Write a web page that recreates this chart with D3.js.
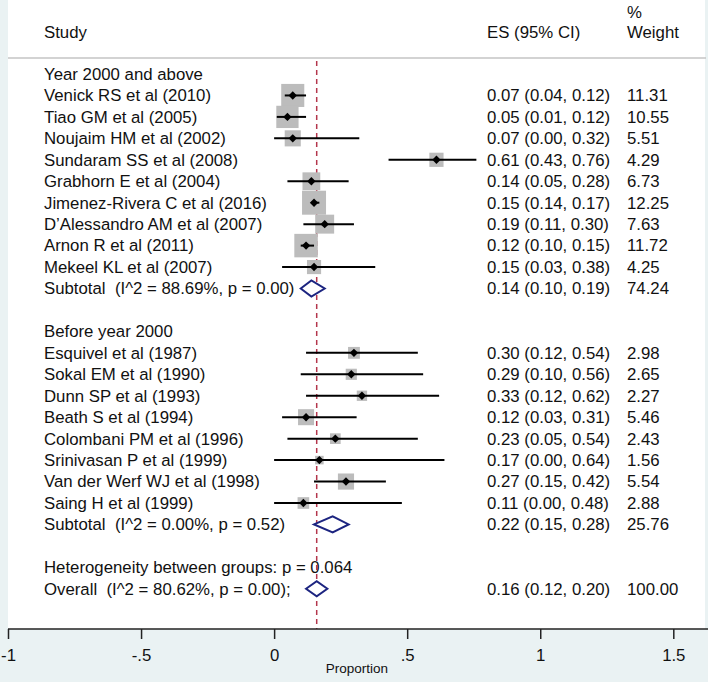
<!DOCTYPE html>
<html>
<head>
<meta charset="utf-8">
<script src="https://cdn.jsdelivr.net/npm/d3@7"></script>
<style>
html,body{margin:0;padding:0;background:#eaf2f3;}
svg{display:block;}
text{font-family:"Liberation Sans",Arial,sans-serif;fill:#111;white-space:pre;}
</style>
</head>
<body>
<svg id="chart" width="708" height="682"></svg>
<script>
// ---- data ----
const group1Label = "Year 2000 and above";
const group1Studies = ["Venick RS et al (2010)","Tiao GM et al (2005)","Noujaim HM et al (2002)","Sundaram SS et al (2008)","Grabhorn E et al (2004)","Jimenez-Rivera C et al (2016)","D\u2019Alessandro AM et al (2007)","Arnon R et al (2011)","Mekeel KL et al (2007)"];
const group1ES = [0.07,0.05,0.07,0.61,0.14,0.15,0.19,0.12,0.15];
const group1Lo = [0.04,0.01,0.00,0.43,0.05,0.14,0.11,0.10,0.03];
const group1Hi = [0.12,0.12,0.32,0.76,0.28,0.17,0.30,0.15,0.38];
const group1W  = [11.31,10.55,5.51,4.29,6.73,12.25,7.63,11.72,4.25];
const group1SubLabel = "Subtotal  (I^2 = 88.69%, p = 0.00)";
const group1Sub = [0.14,0.10,0.19,74.24];

const group2Label = "Before year 2000";
const group2Studies = ["Esquivel et al (1987)","Sokal EM et al (1990)","Dunn SP et al (1993)","Beath S et al (1994)","Colombani PM et al (1996)","Srinivasan P et al (1999)","Van der Werf WJ et al (1998)","Saing H et al (1999)"];
const group2ES = [0.30,0.29,0.33,0.12,0.23,0.17,0.27,0.11];
const group2Lo = [0.12,0.10,0.12,0.03,0.05,0.00,0.15,0.00];
const group2Hi = [0.54,0.56,0.62,0.31,0.54,0.64,0.42,0.48];
const group2W  = [2.98,2.65,2.27,5.46,2.43,1.56,5.54,2.88];
const group2SubLabel = "Subtotal  (I^2 = 0.00%, p = 0.52)";
const group2Sub = [0.22,0.15,0.28,25.76];

const heterogeneityText = "Heterogeneity between groups: p = 0.064";
const overallLabel = "Overall  (I^2 = 80.62%, p = 0.00);";
const overall = [0.16,0.12,0.20,100.00];

const tickValues = [-1,-0.5,0,0.5,1,1.5];
const tickLabels = ["-1","-.5","0",".5","1","1.5"];
const axisTitle = "Proportion";
const headers = {study:"Study", es:"ES (95% CI)", pct:"%", weight:"Weight"};

// ---- build rows ----
const rows = [];
rows.push({type:"group", label:group1Label});
group1Studies.forEach((s,i)=>rows.push({type:"study",label:s,es:group1ES[i],lo:group1Lo[i],hi:group1Hi[i],w:group1W[i]}));
rows.push({type:"sub",label:group1SubLabel,es:group1Sub[0],lo:group1Sub[1],hi:group1Sub[2],w:group1Sub[3]});
rows.push({type:"blank"});
rows.push({type:"group", label:group2Label});
group2Studies.forEach((s,i)=>rows.push({type:"study",label:s,es:group2ES[i],lo:group2Lo[i],hi:group2Hi[i],w:group2W[i]}));
rows.push({type:"sub",label:group2SubLabel,es:group2Sub[0],lo:group2Sub[1],hi:group2Sub[2],w:group2Sub[3]});
rows.push({type:"blank"});
rows.push({type:"group", label:heterogeneityText});
rows.push({type:"overall",label:overallLabel,es:overall[0],lo:overall[1],hi:overall[2],w:overall[3]});
rows.forEach((r,i)=>r.i=i);

const svg = d3.select("#chart");
const fs = 16.8;
const x = d3.scaleLinear().domain([-1,1.5]).range([8,673.3]);
const y = d3.scaleLinear().domain([0,rows.length-1]).range([74,588.8]);
const allW = group1W.concat(group2W);
const boxSide = d3.scaleSqrt().domain([0,d3.max(allW)]).range([0,24]);
const fmt = d3.format(".2f");
const axisY = 629;
const labelX = 44, esX = 487, wX = 627;

// background plot region
svg.append("rect").attr("x",8).attr("y",0).attr("width",697).attr("height",axisY).attr("fill","#fff");

// header
svg.append("text").attr("x",labelX).attr("y",32).attr("dy","0.35em").attr("font-size",fs).text(headers.study);
svg.append("text").attr("x",esX).attr("y",32).attr("dy","0.35em").attr("font-size",fs).text(headers.es);
svg.append("text").attr("x",wX).attr("y",12).attr("dy","0.35em").attr("font-size",fs).text(headers.pct);
svg.append("text").attr("x",wX).attr("y",32).attr("dy","0.35em").attr("font-size",fs).text(headers.weight);
svg.append("line").attr("x1",8).attr("x2",706).attr("y1",58).attr("y2",58).attr("stroke","#c4c4c4").attr("stroke-width",1.5);

// labels
svg.selectAll("text.lab").data(rows.filter(r=>r.label)).enter().append("text")
  .attr("class","lab").attr("x",labelX).attr("y",r=>y(r.i)).attr("dy","0.35em").attr("font-size",fs).text(r=>r.label);

const withVals = rows.filter(r=>r.es!==undefined);
svg.selectAll("text.es").data(withVals).enter().append("text")
  .attr("x",esX).attr("y",r=>y(r.i)).attr("dy","0.35em").attr("font-size",fs)
  .text(r=>`${fmt(r.es)} (${fmt(r.lo)}, ${fmt(r.hi)})`);
svg.selectAll("text.w").data(withVals).enter().append("text")
  .attr("x",wX).attr("y",r=>y(r.i)).attr("dy","0.35em").attr("font-size",fs)
  .text(r=>fmt(r.w));

// reference (overall) dashed line
svg.append("line").attr("x1",x(overall[0])).attr("x2",x(overall[0])).attr("y1",61).attr("y2",axisY)
  .attr("stroke","#b4364c").attr("stroke-width",1.5).attr("stroke-dasharray","5,4");

// study marks
const studies = rows.filter(r=>r.type==="study");
svg.selectAll("rect.box").data(studies).enter().append("rect")
  .attr("x",r=>x(r.es)-boxSide(r.w)/2).attr("y",r=>y(r.i)-boxSide(r.w)/2)
  .attr("width",r=>boxSide(r.w)).attr("height",r=>boxSide(r.w)).attr("fill","#bcbcbc");
svg.selectAll("line.ci").data(studies).enter().append("line")
  .attr("x1",r=>x(r.lo)).attr("x2",r=>x(r.hi)).attr("y1",r=>y(r.i)).attr("y2",r=>y(r.i))
  .attr("stroke","#000").attr("stroke-width",2);
svg.selectAll("path.pt").data(studies).enter().append("path")
  .attr("d",r=>{const cx=x(r.es),cy=y(r.i),h=4.2;return `M${cx-h},${cy}L${cx},${cy-h}L${cx+h},${cy}L${cx},${cy+h}Z`;})
  .attr("fill","#000");

// pooled diamonds
const pooled = rows.filter(r=>r.type==="sub"||r.type==="overall");
svg.selectAll("path.dia").data(pooled).enter().append("path")
  .attr("d",r=>{const cy=y(r.i),h=r.type==="sub"?8:7.5;return `M${x(r.lo)},${cy}L${x(r.es)},${cy-h}L${x(r.hi)},${cy}L${x(r.es)},${cy+h}Z`;})
  .attr("fill","#fff").attr("stroke","#1c2480").attr("stroke-width",2);

// axis
const axis = d3.axisBottom(x).tickValues(tickValues).tickFormat((d,i)=>tickLabels[i]).tickSize(10).tickSizeOuter(0).tickPadding(10);
const g = svg.append("g").attr("transform",`translate(0,${axisY})`).call(axis);
g.select(".domain").remove();
g.append("line").attr("x1",8).attr("x2",708).attr("y1",0).attr("y2",0).attr("stroke","#222").attr("stroke-width",1.5);
g.selectAll(".tick line").attr("stroke","#222").attr("stroke-width",1.5);
g.selectAll(".tick text").attr("font-size",fs).attr("fill","#111").attr("font-family","Liberation Sans, Arial, sans-serif");
svg.append("text").attr("x",357).attr("y",668).attr("dy","0.35em").attr("text-anchor","middle").attr("font-size",13.5).text(axisTitle);
</script>
</body>
</html>
